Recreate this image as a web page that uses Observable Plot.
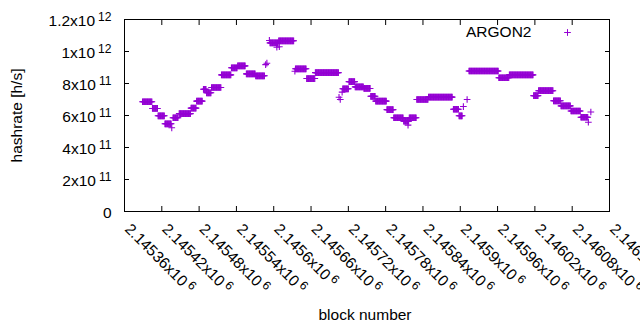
<!DOCTYPE html>
<html><head><meta charset="utf-8">
<script src="https://cdn.jsdelivr.net/npm/d3@7"></script>
<script src="https://cdn.jsdelivr.net/npm/@observablehq/plot@0.6"></script>
<style>html,body{margin:0;padding:0;background:#fff} svg{display:block}</style>
</head><body><div id="chart"></div>
<script>
// Runs of blocks sharing the same hashrate
const runStart = [2145389,2145405,2145414,2145425,2145436,2145438,2145448,2145467,2145476,2145487,
  2145492,2145500,2145516,2145532,2145542,2145556,2145571,2145587,2145589,2145593,
  2145594,2145605,2145608,2145609,2145634,2145635,2145653,2145667,2145705,2145707,
  2145710,2145711,2145721,2145731,2145745,2145756,2145764,2145782,2145793,2145809,
  2145816,2145818,2145830,2145849,2145889,2145898,2145905,2145911,2145914,2145962,
  2145979,2146018,2146026,2146050,2146062,2146078,2146094,2146106,2146110];
const runEnd = [2145404,2145413,2145424,2145435,2145436,2145446,2145466,2145475,2145485,2145491,
  2145499,2145515,2145531,2145541,2145554,2145570,2145585,2145587,2145589,2145593,
  2145607,2145605,2145632,2145609,2145634,2145652,2145666,2145704,2145705,2145707,
  2145710,2145720,2145730,2145744,2145755,2145763,2145781,2145792,2145808,2145817,
  2145816,2145829,2145848,2145887,2145897,2145903,2145905,2145911,2145961,2145978,
  2146017,2146025,2146049,2146061,2146077,2146093,2146105,2146106,2146110];
const runValue = [6.86e11,6.44e11,5.98e11,5.48e11,5.23e11,5.86e11,6.12e11,6.46e11,6.9e11,7.64e11,
  7.42e11,7.75e11,8.54e11,8.98e11,9.1e11,8.6e11,8.48e11,9.18e11,9.27e11,1.069e12,
  1.054e12,1.027e12,1.067e12,1.03e12,8.77e11,8.92e11,8.31e11,8.68e11,7.14e11,7.0e11,
  7.46e11,7.67e11,8.12e11,7.79e11,7.69e11,7.2e11,6.9e11,6.37e11,5.86e11,5.65e11,
  5.4e11,5.86e11,7.0e11,7.15e11,6.39e11,5.98e11,6.56e11,7.0e11,8.78e11,8.36e11,
  8.54e11,7.24e11,7.55e11,6.92e11,6.6e11,6.28e11,5.89e11,5.58e11,6.22e11];

const xTicks = [2145360,2145420,2145480,2145540,2145600,2145660,2145720,2145780,2145840,2145900,2145960,2146020,2146080,2146140];
const yTicks = [0,2e11,4e11,6e11,8e11,1e12,1.2e12];
const seriesName = "ARGON2";
const xTitle = "block number";
const yTitle = "hashrate [h/s]";
const color = "#9400d3";
const FS = 15.5;

// one point per block within each run
const points = [];
runStart.forEach((s, i) => {
  for (let b = s; b <= runEnd[i]; b++) points.push({block: b, hashrate: runValue[i]});
});

function sci(v) {
  if (v === 0) return "0";
  const e = Math.floor(Math.log10(v) + 1e-9);
  const m = +(v / Math.pow(10, e)).toPrecision(6);
  return `${m}x10^${e}`;
}

const chart = Plot.plot({
  width: 640, height: 330,
  marginLeft: 124, marginRight: 31, marginTop: 19, marginBottom: 119,
  style: {fontFamily: "'Liberation Sans', Arial, sans-serif", fontSize: FS + "px", background: "#fff", color: "#000"},
  x: {domain: [xTicks[0], xTicks[xTicks.length - 1]]},
  y: {domain: [0, 1.2e12]},
  marks: [
    Plot.axisX(xTicks, {anchor: "bottom", tickSize: 5, dy: -5, tickFormat: () => "", label: null}),
    Plot.axisX(xTicks, {anchor: "top", tickSize: 5, dy: 5, tickFormat: () => "", label: null}),
    Plot.axisY(yTicks, {anchor: "left", tickSize: 5, dx: 5, tickFormat: () => "", label: null}),
    Plot.axisY(yTicks, {anchor: "right", tickSize: 5, dx: -5, tickFormat: () => "", label: null}),
    Plot.text(yTicks, {y: d => d, frameAnchor: "left", text: sci, textAnchor: "end", lineAnchor: "middle", dx: -13, dy: 2, fontSize: FS}),
    Plot.text(xTicks, {x: d => d, frameAnchor: "bottom", text: sci, textAnchor: "start", lineAnchor: "middle", rotate: 45, dx: 3, dy: 15, fontSize: FS}),
    Plot.text([yTitle], {text: d => d, frameAnchor: "left", rotate: -90, textAnchor: "middle", lineAnchor: "middle", dx: -107, fontSize: FS}),
    Plot.text([xTitle], {text: d => d, frameAnchor: "bottom", textAnchor: "middle", lineAnchor: "middle", dy: 104, dx: -2, fontSize: FS}),
    Plot.dot(points, {x: "block", y: "hashrate", symbol: "plus", r: 2.3, stroke: color, strokeWidth: 1.1}),
    Plot.text([seriesName], {text: d => d, frameAnchor: "top-right", textAnchor: "end", lineAnchor: "middle", dx: -78, dy: 13, fontSize: FS}),
    Plot.dot([seriesName], {frameAnchor: "top-right", dx: -42, dy: 13, symbol: "plus", r: 2.3, stroke: color, strokeWidth: 1}),
    Plot.frame({stroke: "#000", strokeWidth: 1})
  ]
});

// superscript exponents
d3.select(chart).selectAll("text").each(function () {
  const m = /^(.*)\^(\d+)$/.exec(this.textContent);
  if (!m) return;
  const sel = d3.select(this);
  sel.text(null);
  sel.append("tspan").text(m[1]);
  sel.append("tspan").attr("dx", 3).attr("dy", -5).attr("font-size", "0.78em").text(m[2]);
});

document.getElementById("chart").appendChild(chart);
</script>
</body></html>
